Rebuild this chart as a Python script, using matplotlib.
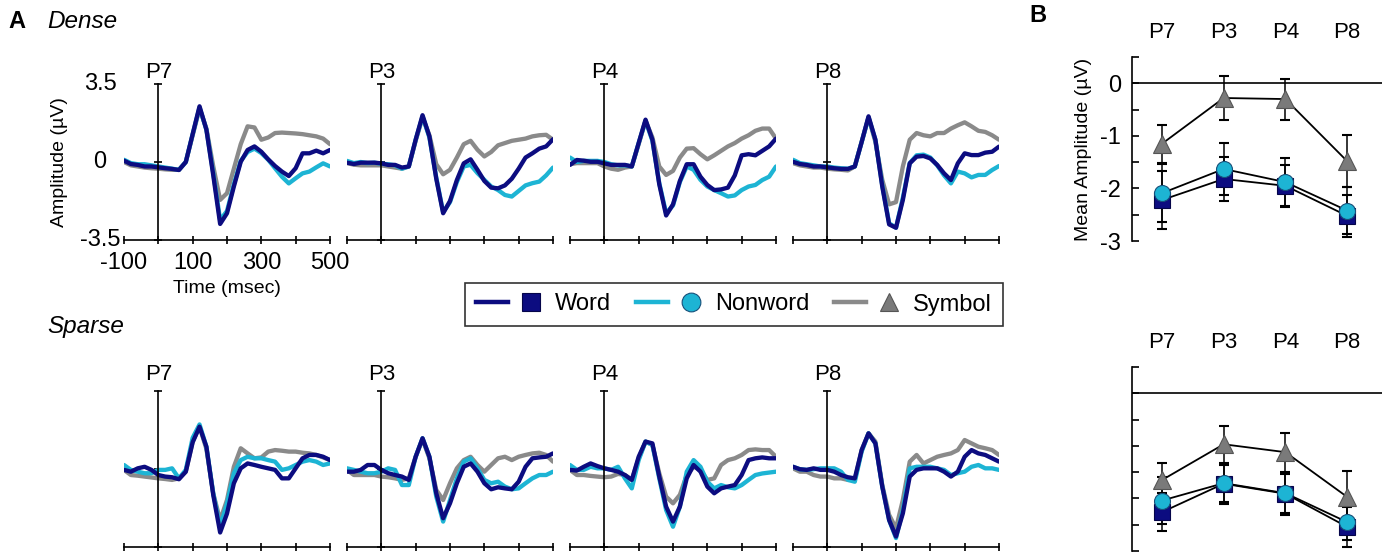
import numpy as np
import matplotlib
matplotlib.use("Agg")
import matplotlib.pyplot as plt
from matplotlib.lines import Line2D
from matplotlib.legend_handler import HandlerTuple

plt.rcParams['font.family'] = ['Liberation Sans', 'DejaVu Sans']

# ---------------------------------------------------------------- data
time_ms = np.arange(-100, 501, 20)
electrodes = ['P7', 'P3', 'P4', 'P8']
conditions = ['Word', 'Nonword', 'Symbol']

# Grand-average ERPs (µV), dense montage
dense_p7_word = [0.06, -0.09, -0.13, -0.2, -0.2, -0.24, -0.28, -0.31, -0.36, 0.0, 1.25, 2.5, 1.45, -0.6, -2.78, -2.3, -1.1, 0.01, 0.54, 0.7, 0.46, 0.12, -0.18, -0.43, -0.63, -0.28, 0.39, 0.39, 0.51, 0.39, 0.54]
dense_p7_nonword = [0.1, -0.05, -0.1, -0.1, -0.15, -0.2, -0.25, -0.3, -0.35, 0.0, 1.25, 2.45, 1.45, -0.5, -2.6, -2.2, -1.0, 0.05, 0.45, 0.6, 0.4, 0.1, -0.28, -0.66, -0.96, -0.73, -0.51, -0.43, -0.24, -0.06, -0.2]
dense_p7_symbol = [0.0, -0.15, -0.2, -0.25, -0.28, -0.3, -0.33, -0.35, -0.35, 0.0, 1.2, 2.4, 1.5, -0.2, -1.7, -1.4, -0.3, 0.8, 1.6, 1.55, 1.0, 1.1, 1.3, 1.32, 1.3, 1.28, 1.25, 1.2, 1.15, 1.05, 0.8]

dense_p3_word = [-0.03, -0.09, -0.03, -0.03, -0.03, -0.06, -0.13, -0.13, -0.25, -0.2, 1.0, 2.1, 1.15, -0.75, -2.3, -1.75, -0.81, -0.06, 0.12, -0.35, -0.85, -1.15, -1.18, -1.05, -0.75, -0.3, 0.2, 0.39, 0.6, 0.7, 1.02]
dense_p3_nonword = [0.05, -0.05, 0.0, -0.05, -0.03, -0.08, -0.1, -0.15, -0.3, -0.2, 1.0, 2.05, 1.1, -0.7, -2.25, -1.8, -0.9, -0.2, -0.13, -0.5, -0.8, -1.1, -1.26, -1.48, -1.55, -1.3, -1.05, -0.95, -0.88, -0.6, -0.25]
dense_p3_symbol = [-0.05, -0.12, -0.15, -0.15, -0.15, -0.15, -0.2, -0.25, -0.3, -0.2, 0.95, 2.0, 1.2, -0.1, -0.55, -0.35, 0.2, 0.8, 0.95, 0.55, 0.25, 0.45, 0.75, 0.85, 0.95, 1.0, 1.05, 1.15, 1.2, 1.22, 1.0]

dense_p4_word = [-0.13, 0.09, 0.06, 0.01, 0.01, -0.06, -0.13, -0.13, -0.13, -0.2, 0.85, 1.9, 1.0, -1.0, -2.4, -1.9, -0.85, -0.1, -0.1, -0.66, -1.03, -1.26, -1.23, -1.15, -0.6, 0.3, 0.35, 0.3, 0.5, 0.7, 1.05]
dense_p4_nonword = [0.2, 0.0, 0.05, 0.05, 0.05, 0.0, -0.1, -0.15, -0.15, -0.2, 0.85, 1.85, 0.95, -0.95, -2.3, -1.95, -0.9, -0.2, -0.35, -0.8, -1.1, -1.26, -1.4, -1.55, -1.5, -1.26, -1.1, -1.03, -0.81, -0.66, -0.2]
dense_p4_symbol = [-0.1, -0.05, -0.05, -0.05, -0.05, -0.2, -0.3, -0.35, -0.25, -0.2, 0.8, 1.85, 1.1, -0.2, -0.58, -0.4, 0.2, 0.6, 0.62, 0.35, 0.12, 0.3, 0.5, 0.7, 0.85, 1.05, 1.2, 1.4, 1.5, 1.5, 1.05]

dense_p8_word = [0.01, -0.09, -0.13, -0.2, -0.2, -0.24, -0.28, -0.31, -0.31, -0.2, 0.9, 2.05, 1.0, -1.1, -2.8, -2.95, -1.7, -0.06, 0.24, 0.27, 0.16, -0.13, -0.51, -0.81, -0.06, 0.39, 0.31, 0.31, 0.42, 0.46, 0.69]
dense_p8_nonword = [0.1, -0.05, -0.1, -0.15, -0.2, -0.2, -0.25, -0.28, -0.3, -0.2, 0.9, 2.0, 1.0, -1.05, -2.75, -2.95, -1.6, -0.05, 0.3, 0.33, 0.2, -0.15, -0.6, -0.96, -0.43, -0.51, -0.69, -0.58, -0.58, -0.36, -0.18]
dense_p8_symbol = [-0.05, -0.15, -0.2, -0.25, -0.25, -0.3, -0.33, -0.35, -0.38, -0.2, 0.9, 2.0, 0.9, -0.8, -1.9, -1.8, -0.2, 1.0, 1.3, 1.2, 1.15, 1.3, 1.3, 1.5, 1.65, 1.78, 1.6, 1.4, 1.35, 1.2, 1.0]

# Grand-average ERPs (µV), sparse montage
sparse_p7_word = [-0.04, -0.12, 0.03, 0.1, -0.04, -0.27, -0.34, -0.37, -0.46, -0.12, 1.2, 1.9, 1.0, -1.17, -2.85, -2.0, -0.64, 0.03, 0.25, 0.18, 0.1, 0.03, -0.04, -0.42, -0.42, 0.03, 0.48, 0.63, 0.63, 0.55, 0.4]
sparse_p7_nonword = [0.18, -0.04, -0.12, -0.19, -0.19, -0.04, -0.04, 0.03, -0.42, -0.04, 1.4, 2.0, 1.0, -1.1, -2.6, -1.54, -0.19, 0.4, 0.55, 0.48, 0.48, 0.4, 0.33, -0.04, 0.03, 0.18, 0.33, 0.4, 0.33, 0.18, 0.25]
sparse_p7_symbol = [-0.04, -0.27, -0.3, -0.34, -0.38, -0.42, -0.45, -0.49, -0.42, -0.12, 1.23, 1.9, 0.9, -1.1, -2.3, -1.39, 0.1, 0.93, 0.7, 0.48, 0.52, 0.78, 0.85, 0.82, 0.78, 0.78, 0.73, 0.7, 0.63, 0.52, 0.4]

sparse_p3_word = [-0.12, -0.12, -0.04, 0.18, 0.18, -0.04, -0.19, -0.27, -0.34, -0.49, 0.55, 1.38, 0.55, -1.09, -2.21, -1.54, -0.64, 0.1, 0.25, -0.12, -0.64, -0.91, -0.82, -0.87, -0.91, -0.57, 0.1, 0.48, 0.52, 0.55, 0.7]
sparse_p3_nonword = [0.03, -0.04, -0.12, -0.19, -0.19, -0.12, 0.03, -0.04, -0.72, -0.72, 0.55, 1.38, 0.55, -1.24, -2.36, -1.39, -0.42, 0.33, 0.48, 0.03, -0.49, -0.64, -0.57, -0.79, -0.91, -0.87, -0.64, -0.42, -0.27, -0.27, -0.12]
sparse_p3_symbol = [-0.04, -0.27, -0.27, -0.27, -0.27, -0.34, -0.37, -0.42, -0.49, -0.42, 0.55, 1.33, 0.48, -0.94, -1.39, -0.64, 0.03, 0.4, 0.55, 0.18, -0.12, 0.18, 0.48, 0.55, 0.4, 0.55, 0.63, 0.7, 0.73, 0.63, 0.33]

sparse_p4_word = [-0.04, -0.07, 0.1, 0.25, 0.13, 0.03, -0.04, -0.12, -0.27, -0.49, 0.55, 1.23, 1.15, -0.34, -1.69, -2.36, -1.69, -0.42, 0.18, -0.12, -0.79, -1.09, -0.87, -0.79, -0.72, -0.27, 0.4, 0.48, 0.52, 0.48, 0.48]
sparse_p4_nonword = [0.18, -0.04, -0.04, 0.1, 0.03, 0.03, -0.04, 0.1, -0.42, -0.87, 0.4, 1.23, 1.08, -0.42, -1.84, -2.59, -1.69, -0.12, 0.4, 0.1, -0.57, -0.87, -0.72, -0.82, -0.87, -0.72, -0.49, -0.27, -0.2, -0.16, -0.12]
sparse_p4_symbol = [-0.04, -0.27, -0.27, -0.31, -0.34, -0.37, -0.34, -0.22, -0.27, -0.49, 0.48, 1.23, 1.08, -0.19, -1.24, -1.54, -1.16, -0.27, 0.1, -0.04, -0.49, -0.42, 0.18, 0.4, 0.48, 0.63, 0.85, 0.88, 0.85, 0.85, 0.55]

sparse_p8_word = [0.1, -0.01, -0.04, 0.03, -0.04, -0.04, -0.12, -0.27, -0.37, -0.42, 0.85, 1.6, 1.15, -0.79, -2.29, -3.03, -1.99, -0.34, -0.04, 0.03, 0.03, 0.03, -0.12, -0.34, -0.12, 0.55, 0.85, 0.7, 0.63, 0.48, 0.33]
sparse_p8_nonword = [0.1, -0.01, -0.04, -0.01, 0.03, 0.03, 0.03, -0.12, -0.49, -0.57, 0.78, 1.6, 1.15, -0.79, -2.29, -3.1, -1.84, 0.03, 0.1, 0.1, 0.1, 0.03, -0.04, -0.27, -0.19, -0.12, 0.1, 0.18, 0.03, 0.03, -0.04]
sparse_p8_symbol = [0.03, -0.12, -0.12, -0.27, -0.34, -0.34, -0.42, -0.42, -0.49, -0.49, 0.85, 1.6, 1.23, -0.72, -2.06, -2.66, -1.39, 0.33, 0.63, 0.25, 0.4, 0.55, 0.63, 0.7, 0.85, 1.3, 1.15, 1.0, 0.93, 0.85, 0.63]

# Mean amplitudes (µV) and error bars per electrode (P7, P3, P4, P8)
dense_mean_word = [-2.22, -1.82, -1.95, -2.52]
dense_err_word = [0.55, 0.42, 0.40, 0.40]
dense_mean_nonword = [-2.09, -1.63, -1.88, -2.42]
dense_err_nonword = [0.55, 0.49, 0.45, 0.45]
dense_mean_symbol = [-1.15, -0.28, -0.30, -1.48]
dense_err_symbol = [0.36, 0.41, 0.39, 0.50]

sparse_mean_word = [-2.26, -1.72, -1.91, -2.54]
sparse_err_word = [0.36, 0.38, 0.40, 0.38]
sparse_mean_nonword = [-2.04, -1.71, -1.90, -2.45]
sparse_err_nonword = [0.45, 0.35, 0.37, 0.35]
sparse_mean_symbol = [-1.65, -0.97, -1.12, -1.97]
sparse_err_symbol = [0.33, 0.35, 0.37, 0.50]

amp_ticks = [-3.5, 0, 3.5]
amp_tick_labels = ['-3.5', '0', '3.5']
time_ticks = [-100, 0, 100, 200, 300, 400, 500]
time_tick_labels = ['-100', '', '100', '', '300', '', '500']
mean_ticks = [-3, -2.5, -2, -1.5, -1, -0.5, 0, 0.5]
mean_tick_labels = ['-3', '', '-2', '', '-1', '', '0', '']

# ---------------------------------------------------------------- style
word_color = '#0c0c80'
nonword_color = '#1db4d4'
symbol_color = '#8a8a8a'
tri_color = '#7a7a7a'
erp_lw = 3.1

W, H = 1382, 554
fig = plt.figure(figsize=(W / 100, H / 100), dpi=100)


def px_rect(x0, y_top, x1, y_bottom):
    return [x0 / W, 1 - y_bottom / H, (x1 - x0) / W, (y_bottom - y_top) / H]


erp_sets = {
    'dense': {
        'P7': (dense_p7_word, dense_p7_nonword, dense_p7_symbol),
        'P3': (dense_p3_word, dense_p3_nonword, dense_p3_symbol),
        'P4': (dense_p4_word, dense_p4_nonword, dense_p4_symbol),
        'P8': (dense_p8_word, dense_p8_nonword, dense_p8_symbol),
    },
    'sparse': {
        'P7': (sparse_p7_word, sparse_p7_nonword, sparse_p7_symbol),
        'P3': (sparse_p3_word, sparse_p3_nonword, sparse_p3_symbol),
        'P4': (sparse_p4_word, sparse_p4_nonword, sparse_p4_symbol),
        'P8': (sparse_p8_word, sparse_p8_nonword, sparse_p8_symbol),
    },
}

panel_x = [124, 347, 570, 793]
panel_w = 206
rows = {'dense': (84, 240, 4.5), 'sparse': (391, 547, 8.0)}
line_kw = dict(lw=erp_lw, solid_joinstyle='round', solid_capstyle='round')

for montage, (y_top, y_bot, title_off) in rows.items():
    for i, el in enumerate(electrodes):
        ax = fig.add_axes(px_rect(panel_x[i], y_top, panel_x[i] + panel_w, y_bot))
        word, nonword, symbol = erp_sets[montage][el]
        ax.plot(time_ms, symbol, color=symbol_color, **line_kw)
        ax.plot(time_ms, nonword, color=nonword_color, **line_kw)
        ax.plot(time_ms, word, color=word_color, **line_kw)
        ax.set_xlim(-100, 500)
        ax.set_ylim(-3.5, 3.5)
        ax.patch.set_visible(False)
        for s in ('top', 'right'):
            ax.spines[s].set_visible(False)
        ax.spines['left'].set_position(('data', 0))
        for s in ('left', 'bottom'):
            ax.spines[s].set_linewidth(1.2)
        ax.set_xticks(time_ticks)
        ax.set_yticks(amp_ticks)
        ax.tick_params(direction='inout', length=6, width=1.2, labelsize=17, pad=6)
        ax.set_yticklabels([])
        if montage == 'dense' and i == 0:
            ax.set_xticklabels(time_tick_labels)
            for v, lab in zip(amp_ticks, amp_tick_labels):
                ax.text(-0.1165, v, lab, transform=ax.get_yaxis_transform(),
                        ha='center', va='center', fontsize=17)
            ax.set_xlabel('Time (msec)', fontsize=14, va='center')
            ax.xaxis.set_label_coords(0.5, -0.31)
            ax.set_ylabel('Amplitude (µV)', fontsize=14, va='center')
            ax.yaxis.set_label_coords(-0.311, 0.5)
        else:
            ax.set_xticklabels([])
        ax.annotate(el, xy=(0, 1), xycoords=('data', 'axes fraction'),
                    xytext=(0, title_off), textcoords='offset points',
                    ha='center', va='baseline', fontsize=16)

# ---------------------------------------------------------------- panel B
b_rows = {
    'dense': (57, 241, dense_mean_word, dense_err_word, dense_mean_nonword, dense_err_nonword,
              dense_mean_symbol, dense_err_symbol, True),
    'sparse': (367, 551, sparse_mean_word, sparse_err_word, sparse_mean_nonword, sparse_err_nonword,
               sparse_mean_symbol, sparse_err_symbol, False),
}
xpos = np.arange(len(electrodes))
for montage, (y_top, y_bot, mw, ew, mn, en, ms_, es, show_labels) in b_rows.items():
    ax = fig.add_axes(px_rect(1132, y_top, 1382, y_bot))
    ax.set_xlim(-0.486, 3.566)
    ax.set_ylim(-3, 0.5)
    ax.axhline(0, color='black', lw=1.2, zorder=1)
    err_kw = dict(color='black', lw=1.1, capsize=3.6, capthick=1.5, zorder=2)
    ax.errorbar(xpos, ms_, yerr=es, fmt='none', **err_kw)
    ax.errorbar(xpos, mw, yerr=ew, fmt='none', **err_kw)
    ax.errorbar(xpos, mn, yerr=en, fmt='none', **err_kw)
    ax.plot(xpos, ms_, color='black', lw=1.3, zorder=3)
    ax.plot(xpos, mw, color='black', lw=1.3, zorder=3)
    ax.plot(xpos, mn, color='black', lw=1.3, zorder=3)
    ax.plot(xpos, mw, ls='none', marker='s', ms=11, mfc=word_color, mec='#05054a', mew=0.8, zorder=4)
    ax.plot(xpos, mn, ls='none', marker='o', ms=11.5, mfc=nonword_color, mec='#16507a', mew=0.8, zorder=5)
    ax.plot(xpos, ms_, ls='none', marker='^', ms=12.5, mfc=tri_color, mec='#555555', mew=0.8, zorder=5)
    for s in ('top', 'right', 'bottom'):
        ax.spines[s].set_visible(False)
    ax.spines['left'].set_linewidth(1.2)
    ax.patch.set_visible(False)
    ax.set_yticks(mean_ticks)
    ax.tick_params(axis='y', direction='in', length=5, width=1.2, labelsize=17, pad=8)
    if show_labels:
        ax.set_yticklabels(mean_tick_labels)
        ax.set_ylabel('Mean Amplitude (µV)', fontsize=14, va='center')
        ax.yaxis.set_label_coords(-0.196, 0.5)
    else:
        ax.set_yticklabels([])
    ax.xaxis.tick_top()
    ax.set_xticks(xpos)
    ax.set_xticklabels(electrodes)
    ax.tick_params(axis='x', length=0, labelsize=16, pad=10)

# ---------------------------------------------------------------- legend
handles = [
    (Line2D([], [], color=word_color, lw=3.2),
     Line2D([], [], ls='none', marker='s', ms=13.5, mfc=word_color, mec='#05054a', mew=0.8)),
    (Line2D([], [], color=nonword_color, lw=3.2),
     Line2D([], [], ls='none', marker='o', ms=13.5, mfc=nonword_color, mec='#16507a', mew=0.8)),
    (Line2D([], [], color=symbol_color, lw=3.2),
     Line2D([], [], ls='none', marker='^', ms=13.5, mfc=tri_color, mec='#555555', mew=0.8)),
]
leg = fig.legend(handles, conditions, loc='center', bbox_to_anchor=(734 / W, 1 - 304.5 / H),
                 ncol=3, fontsize=17, frameon=True, fancybox=False, edgecolor='black',
                 handlelength=3.0, handletextpad=0.35, columnspacing=1.05, borderpad=0.45,
                 borderaxespad=0.0,
                 handler_map={tuple: HandlerTuple(ndivide=None, pad=0.3)})
leg.get_frame().set_linewidth(1.2)

# ---------------------------------------------------------------- panel letters
fig.text(17 / W, 1 - 22 / H, 'A', fontsize=17, fontweight='bold', ha='center', va='center')
fig.text(47 / W, 1 - 22 / H, 'Dense', fontsize=17.5, style='italic', ha='left', va='center')
fig.text(47 / W, 1 - 326 / H, 'Sparse', fontsize=17.5, style='italic', ha='left', va='center')
fig.text(1038 / W, 1 - 15 / H, 'B', fontsize=17, fontweight='bold', ha='center', va='center')

fig.savefig('out.png', dpi=100, facecolor='white')
